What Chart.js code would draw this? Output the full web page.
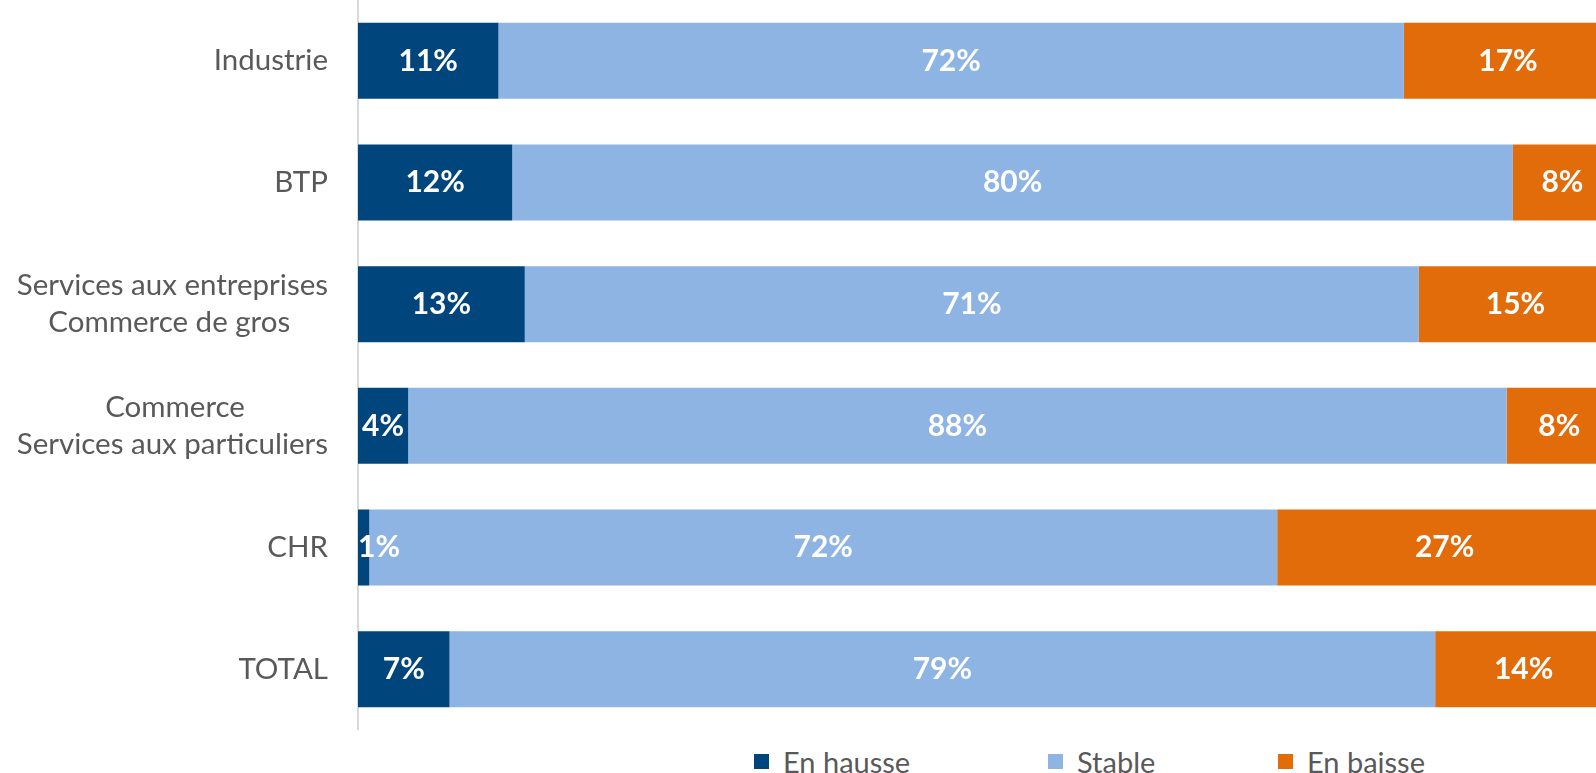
<!DOCTYPE html>
<html>
<head>
<meta charset="utf-8">
<script src="https://cdn.jsdelivr.net/npm/chart.js@4"></script>
<style>
  body { margin: 0; overflow: hidden; background: #fff; width: 1596px; height: 773px; position: relative; }
  #wrap { position: absolute; left: 0; top: 0; width: 1612px; height: 730px; }
  #legend { position: absolute; left: 754px; top: 744px; display: flex; font-family: Lato; font-size: 29px; color: #595959; }
  .item { display: flex; align-items: center; }
  .box { width: 15px; height: 15px; margin-right: 14px; }
</style>
</head>
<body>
<div id="wrap"><canvas id="myChart"></canvas></div>
<div id="legend"></div>
<script>
// categories, top to bottom
const categories = [
    ['Industrie'],
    ['BTP'],
    ['Services aux entreprises', 'Commerce de gros'],
    ['Commerce', 'Services aux particuliers'],
    ['CHR'],
    ['TOTAL']
];
// shares in %
const enHausse = [11.2, 12.3, 13.3, 4.0, 0.9, 7.3];
const stable   = [72.2, 79.8, 71.3, 87.6, 72.4, 78.6];
const enBaisse = [16.6, 7.9, 15.4, 8.4, 26.7, 14.1];

const seriesNames = ['En hausse', 'Stable', 'En baisse'];
const colors = ['#00457c', '#8eb4e3', '#e36c0a'];

const tickFont = '29.5px Lato';

// Excel centres the lines of a label but right-aligns the block:
// pad the shorter lines with spaces so they sit centred
function centreLines(lines) {
    let c = document.createElement('canvas').getContext('2d');
    c.font = tickFont;
    let widths = lines.map(l => c.measureText(l).width);
    let max = Math.max(...widths);
    let sp = c.measureText(' ').width;
    return lines.map((l, i) => l + ' '.repeat(Math.round((max - widths[i]) / 2 / sp)));
}

// white % labels in the middle of each segment, kept inside the plot
const barLabels = {
    id: 'barLabels',
    afterDatasetsDraw(chart) {
        let ctx = chart.ctx;
        let area = chart.chartArea;
        ctx.save();
        ctx.font = 'bold 30px Lato';
        ctx.fillStyle = '#ffffff';
        ctx.textAlign = 'center';
        ctx.textBaseline = 'middle';
        chart.data.datasets.forEach((ds, i) => {
            chart.getDatasetMeta(i).data.forEach((bar, j) => {
                let txt = Math.round(ds.data[j]) + '%';
                let half = ctx.measureText(txt).width / 2;
                let x = Math.max((bar.x + bar.base) / 2, area.left + half);
                ctx.fillText(txt, x, bar.y);
            });
        });
        ctx.restore();
    }
};

// legend as html, built from the datasets
const htmlLegend = {
    id: 'htmlLegend',
    afterUpdate(chart) {
        let box = document.getElementById('legend');
        box.innerHTML = '';
        let slots = [294, 230, null];
        chart.data.datasets.forEach((ds, i) => {
            let item = document.createElement('div');
            item.className = 'item';
            if (slots[i]) item.style.width = slots[i] + 'px';
            let sq = document.createElement('span');
            sq.className = 'box';
            sq.style.background = ds.backgroundColor;
            let txt = document.createElement('span');
            txt.textContent = ds.label;
            item.appendChild(sq);
            item.appendChild(txt);
            box.appendChild(item);
        });
    }
};

const ctx = document.getElementById('myChart').getContext('2d');
const myChart = new Chart(ctx, {
    type: 'bar',
    data: {
        labels: categories.map(c => c.length > 1 ? centreLines(c) : c[0]),
        datasets: [enHausse, stable, enBaisse].map((d, i) => ({
            label: seriesNames[i],
            data: d,
            backgroundColor: colors[i],
            categoryPercentage: 1,
            barPercentage: 0.625
        }))
    },
    options: {
        indexAxis: 'y',
        responsive: true,
        maintainAspectRatio: false,
        animation: false,
        layout: { padding: 0 },
        plugins: {
            legend: { display: false },
            tooltip: { enabled: false }
        },
        scales: {
            x: {
                stacked: true,
                min: 0,
                max: 100,
                display: false
            },
            y: {
                stacked: true,
                grid: { display: false, drawTicks: false },
                border: { display: true, color: '#d9d9d9', width: 2 },
                ticks: {
                    color: '#595959',
                    padding: 30,
                    font: { family: 'Lato', size: 29.5, lineHeight: 1.25 }
                },
                afterFit(scale) {
                    scale.width = 358;
                    // plot runs to the top and bottom edges
                    scale.paddingTop = 0;
                    scale.paddingBottom = 0;
                }
            }
        }
    },
    plugins: [barLabels, htmlLegend]
});
</script>
</body>
</html>
